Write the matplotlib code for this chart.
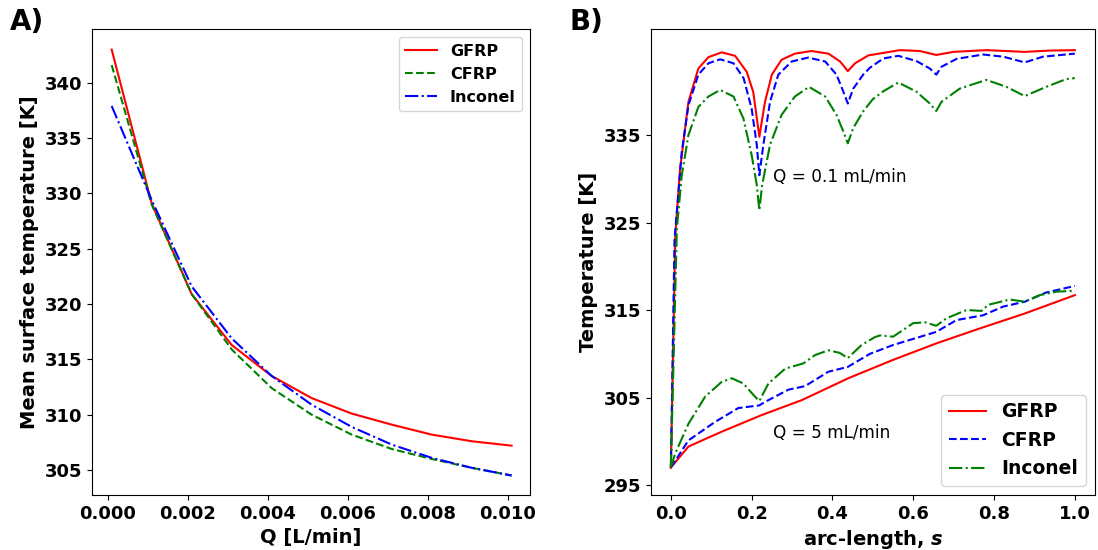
import matplotlib
matplotlib.use("Agg")
import matplotlib.pyplot as plt

plt.rcParams['font.family'] = ['DejaVu Sans']
plt.rcParams['mathtext.fontset'] = 'custom'
plt.rcParams['mathtext.it'] = 'DejaVu Sans:bold:italic'

# --- Panel A: mean surface temperature vs flow rate ---
q_lmin = [0.0001, 0.0011, 0.0021, 0.0031, 0.0041, 0.0051,
          0.0061, 0.0071, 0.0081, 0.0091, 0.0101]
mean_gfrp = [343.0, 329.1, 320.9, 316.3, 313.5, 311.5, 310.1, 309.1, 308.2, 307.6, 307.2]
mean_cfrp = [341.6, 329.0, 320.9, 315.9, 312.4, 310.0, 308.2, 306.9, 306.0, 305.2, 304.5]
mean_inconel = [337.9, 329.4, 321.6, 316.9, 313.5, 310.9, 308.9, 307.3, 306.1, 305.2, 304.5]

# --- Panel B: temperature along the arc-length ---
# Q = 0.1 mL/min
s_gfrp_low = [0, 0.011, 0.023, 0.0435, 0.068, 0.093, 0.126, 0.159, 0.188, 0.204, 0.219,
              0.233, 0.250, 0.274, 0.307, 0.348, 0.390, 0.419, 0.438, 0.456, 0.489,
              0.567, 0.616, 0.657, 0.699, 0.781, 0.876, 0.938, 1.0]
t_gfrp_low = [297.0, 323.6, 331.2, 338.8, 342.6, 343.9, 344.45, 344.05, 342.2, 339.9, 334.8,
              338.8, 341.9, 343.6, 344.3, 344.6, 344.3, 343.4, 342.3, 343.2, 344.1,
              344.7, 344.6, 344.15, 344.5, 344.7, 344.5, 344.65, 344.7]

s_cfrp_low = [0, 0.009, 0.027, 0.0435, 0.068, 0.093, 0.122, 0.155, 0.18, 0.200, 0.2126,
              0.219, 0.229, 0.2455, 0.266, 0.299, 0.340, 0.382, 0.410, 0.427, 0.438,
              0.4515, 0.476, 0.493, 0.526, 0.563, 0.608, 0.641, 0.657, 0.670, 0.707,
              0.773, 0.823, 0.876, 0.921, 1.0]
t_cfrp_low = [297.0, 323.0, 333.1, 338.4, 341.9, 343.2, 343.65, 343.2, 341.5, 338.0, 333.9,
              330.4, 333.9, 338.8, 341.9, 343.4, 343.85, 343.4, 341.9, 339.95, 338.6,
              340.3, 341.9, 342.7, 343.75, 344.05, 343.45, 342.6, 341.9, 342.8, 343.7,
              344.2, 343.95, 343.3, 343.95, 344.3]

s_inconel_low = [0, 0.0148, 0.027, 0.0435, 0.068, 0.093, 0.122, 0.155, 0.1795, 0.200, 0.2126,
                 0.219, 0.226, 0.2455, 0.274, 0.307, 0.342, 0.382, 0.410, 0.427, 0.438,
                 0.4515, 0.476, 0.50, 0.526, 0.563, 0.608, 0.641, 0.657, 0.670, 0.715,
                 0.781, 0.831, 0.876, 0.929, 0.979, 1.0]
t_inconel_low = [297.0, 324.3, 330.4, 335.0, 338.2, 339.4, 340.15, 339.4, 336.9, 332.7, 329.3,
                 326.4, 329.3, 333.9, 337.3, 339.4, 340.5, 339.4, 337.3, 335.4, 334.05,
                 335.8, 337.7, 339.1, 340.0, 341.0, 339.95, 338.6, 337.75, 338.8, 340.3,
                 341.3, 340.5, 339.45, 340.5, 341.4, 341.5]

# Q = 5 mL/min
s_gfrp_high = [0, 0.0435, 0.126, 0.225, 0.324, 0.439, 0.55, 0.658, 0.765, 0.876, 1.0]
t_gfrp_high = [297.0, 299.4, 301.1, 303.0, 304.7, 307.2, 309.3, 311.2, 312.9, 314.6, 316.7]

s_cfrp_high = [0, 0.0435, 0.109, 0.167, 0.219, 0.233, 0.291, 0.332, 0.39, 0.438, 0.493,
               0.55, 0.657, 0.707, 0.773, 0.823, 0.876, 0.929, 1.0]
t_cfrp_high = [297.0, 300.1, 302.2, 303.8, 304.1, 304.5, 305.9, 306.3, 307.95, 308.5, 310.0,
               311.0, 312.5, 313.85, 314.4, 315.4, 315.95, 317.0, 317.75]

s_inconel_high = [0, 0.0106, 0.0435, 0.0848, 0.126, 0.151, 0.1795, 0.2043, 0.219, 0.2414,
                  0.283, 0.328, 0.357, 0.39, 0.418, 0.438, 0.472, 0.505, 0.518, 0.55,
                  0.60, 0.629, 0.657, 0.682, 0.732, 0.769, 0.786, 0.839, 0.876, 0.913,
                  0.955, 1.0]
t_inconel_high = [297.0, 298.6, 302.0, 305.1, 306.8, 307.2, 306.6, 305.3, 304.6, 306.6,
                  308.3, 308.9, 309.85, 310.4, 310.1, 309.5, 311.0, 311.9, 312.1, 311.95,
                  313.5, 313.6, 313.2, 314.05, 315.0, 314.9, 315.6, 316.2, 315.95, 316.7,
                  317.1, 317.2]

TICK_FS = 13
LABEL_FS = 14

fig = plt.figure(figsize=(10.98, 5.5), dpi=100)
ax_a = fig.add_axes([0.0835, 0.1, 0.3992, 0.8467])
ax_b = fig.add_axes([0.5926, 0.1, 0.4047, 0.8467])

# Panel A
ax_a.plot(q_lmin, mean_gfrp, color='r', linestyle='-', label='GFRP')
ax_a.plot(q_lmin, mean_cfrp, color='g', linestyle='--', label='CFRP')
ax_a.plot(q_lmin, mean_inconel, color='b', linestyle='-.', label='Inconel')
ax_a.set_xlim(-0.0004, 0.01056)
ax_a.set_ylim(302.74, 344.83)
ax_a.set_xticks([0.000, 0.002, 0.004, 0.006, 0.008, 0.010])
ax_a.set_xticklabels(['0.000', '0.002', '0.004', '0.006', '0.008', '0.010'])
ax_a.set_yticks([305, 310, 315, 320, 325, 330, 335, 340])
ax_a.set_xlabel('Q [L/min]', fontsize=LABEL_FS, fontweight='bold')
ax_a.set_ylabel('Mean surface temperature [K]', fontsize=LABEL_FS, fontweight='bold')
ax_a.legend(loc='upper right', prop={'weight': 'bold', 'size': 11.5})

# Panel B
ax_b.plot(s_gfrp_low, t_gfrp_low, color='r', linestyle='-', label='GFRP')
ax_b.plot(s_cfrp_low, t_cfrp_low, color='b', linestyle='--', label='CFRP')
ax_b.plot(s_inconel_low, t_inconel_low, color='g', linestyle='-.', label='Inconel')
ax_b.plot(s_gfrp_high, t_gfrp_high, color='r', linestyle='-')
ax_b.plot(s_cfrp_high, t_cfrp_high, color='b', linestyle='--')
ax_b.plot(s_inconel_high, t_inconel_high, color='g', linestyle='-.')
ax_b.set_xlim(-0.05, 1.05)
ax_b.set_ylim(293.86, 347.08)
ax_b.set_xticks([0.0, 0.2, 0.4, 0.6, 0.8, 1.0])
ax_b.set_yticks([295, 305, 315, 325, 335])
ax_b.set_xlabel(r'arc-length, $s$', fontsize=LABEL_FS, fontweight='bold')
ax_b.set_ylabel('Temperature [K]', fontsize=LABEL_FS, fontweight='bold')
ax_b.text(0.252, 330.2, 'Q = 0.1 mL/min', fontsize=12.2, ha='left', va='center')
ax_b.text(0.252, 300.9, 'Q = 5 mL/min', fontsize=12.2, ha='left', va='center')
ax_b.legend(loc='lower right', prop={'weight': 'bold', 'size': 13.5})

for ax in (ax_a, ax_b):
    for lbl in ax.get_xticklabels() + ax.get_yticklabels():
        lbl.set_fontsize(TICK_FS)
        lbl.set_fontweight('bold')

fig.text(0.009, 0.985, 'A)', fontsize=20, fontweight='bold', va='top', ha='left')
fig.text(0.519, 0.985, 'B)', fontsize=20, fontweight='bold', va='top', ha='left')

fig.savefig('out.png', dpi=100)
